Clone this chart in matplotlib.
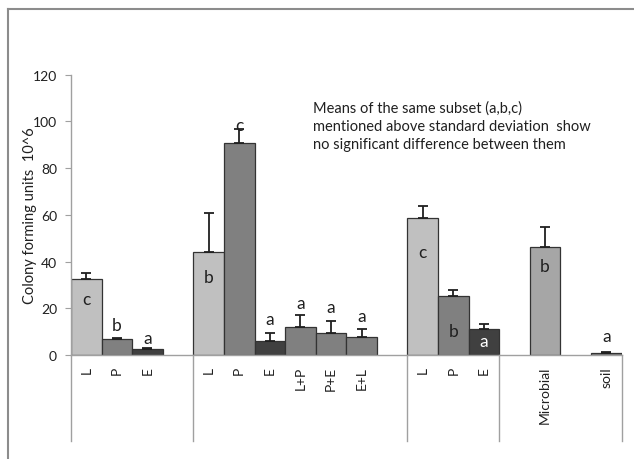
import matplotlib
matplotlib.use("Agg")
import matplotlib.pyplot as plt
from matplotlib.lines import Line2D
import numpy as np

plt.rcParams['font.family'] = ['Lato', 'DejaVu Sans']

# categories (blank slots are the gaps Excel left between groups)
labels = ['L', 'P', 'E', '', 'L', 'P', 'E', 'L+P', 'P+E', 'E+L', '',
          'L', 'P', 'E', '', 'Microbial', '', 'soil']
means = [32.4, 6.9, 2.5, np.nan, 44.0, 90.9, 6.0, 11.8, 9.3, 7.7, np.nan,
         58.8, 25.3, 11.3, np.nan, 46.4, np.nan, 0.9]
sd = [2.8, 0.5, 0.6, np.nan, 16.8, 5.8, 3.4, 5.5, 5.1, 3.4, np.nan,
      4.8, 2.7, 2.0, np.nan, 8.3, np.nan, 0.4]
letters = ['c', 'b', 'a', '', 'b', 'c', 'a', 'a', 'a', 'a', '',
           'c', 'b', 'a', '', 'b', '', 'a']
letter_y = [24, 13, 7.3, 0, 33.4, 98.6, 15.4, 22.2, 20.5, 16.8, 0,
            44.2, 10.4, 5.9, 0, 38, 0, 8]
colors = ['#c0c0c0', '#808080', '#404040', 'w', '#c0c0c0', '#808080', '#404040',
          '#808080', '#808080', '#808080', 'w', '#c0c0c0', '#808080', '#404040',
          'w', '#a6a6a6', 'w', '#808080']
group_edges = [-0.5, 3.5, 10.5, 13.5, 17.5]

fig = plt.figure(figsize=(6.34, 4.60), dpi=100)
ax = fig.add_axes([0.112, 0.2261, 0.8683, 0.6093])

x = np.arange(len(labels))
m = np.array(means)
ok = ~np.isnan(m)
ax.bar(x[ok], m[ok], width=1.0, color=[c for c, k in zip(colors, ok) if k],
       edgecolor='#333333', linewidth=0.9, zorder=2)
e = np.array(sd)
ax.errorbar(x[ok], m[ok], yerr=[np.zeros(ok.sum()), e[ok]], fmt='none',
            ecolor='#202020', elinewidth=1.3, capsize=3.5, capthick=1.3, zorder=3)

for xi, (t, ly) in enumerate(zip(letters, letter_y)):
    if t:
        col = 'white' if (colors[xi] == '#404040' and ly < means[xi]) else '#202020'
        ax.text(xi, ly, t, ha='center', va='center', fontsize=12.5, color=col, zorder=4)

ax.set_xlim(-0.5, 17.5)
ax.set_ylim(0, 120)
ax.set_yticks(np.arange(0, 121, 20))
ax.tick_params(axis='y', direction='out', length=4, color='#a0a0a0',
               labelsize=10, labelcolor='#202020', pad=6)
ax.set_xticks(x)
ax.set_xticklabels(labels, rotation=90, va='top', fontsize=10, color='#202020')
ax.tick_params(axis='x', length=0, pad=8)
for s in ['top', 'right']:
    ax.spines[s].set_visible(False)
for s in ['left', 'bottom']:
    ax.spines[s].set_color('#a0a0a0')
    ax.spines[s].set_linewidth(1.0)

ax.set_ylabel('Colony forming units  10^6', fontsize=10.5, color='#202020',
              va='center')
ax.yaxis.set_label_coords(-0.075, 0.5)

# group separator lines under the category axis
tr = ax.get_xaxis_transform()
for g in group_edges:
    ax.add_line(Line2D([g, g], [0, -0.306], transform=tr, color='#a0a0a0',
                       lw=1.0, clip_on=False))

fig.text(313 / 634, 1 - 101 / 460,
         'Means of the same subset (a,b,c)\n'
         'mentioned above standard deviation  show\n'
         'no significant difference between them',
         fontsize=10.5, color='#202020', va='top', ha='left', linespacing=1.4)

# chart area border (left and top edges visible)
fig.add_artist(Line2D([8 / 634, 8 / 634], [0, 1 - 9.5 / 460], transform=fig.transFigure,
                      color='#8c8c8c', lw=1.5))
fig.add_artist(Line2D([8 / 634, 1], [1 - 9.5 / 460, 1 - 9.5 / 460], transform=fig.transFigure,
                      color='#8c8c8c', lw=1.5))

fig.savefig('out.png', dpi=100)
